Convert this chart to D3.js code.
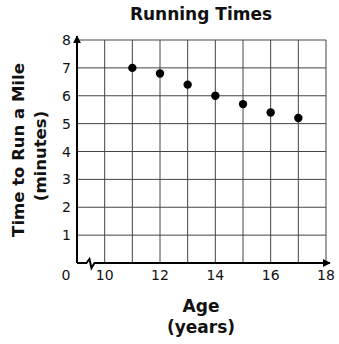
<!DOCTYPE html>
<html>
<head>
<meta charset="utf-8">
<script src="https://cdn.jsdelivr.net/npm/d3@7"></script>
<style>
  body { margin: 0; background: #fff; }
  text { font-family: "DejaVu Sans", Verdana, sans-serif; fill: #111; }
</style>
</head>
<body>
<div id="chart"></div>
<script>
// data
const ages = [11, 12, 13, 14, 15, 16, 17];
const times = [7.0, 6.8, 6.4, 6.0, 5.7, 5.4, 5.2];
const xTicks = [10, 12, 14, 16, 18];
const yTicks = [1, 2, 3, 4, 5, 6, 7, 8];

const width = 339, height = 344;
const plot = { left: 77, right: 326, top: 40, bottom: 263 };

const svg = d3.select("#chart").append("svg")
  .attr("width", width).attr("height", height);

// x axis is broken: left edge stands for 0 but grid starts at 9
const x = d3.scaleLinear().domain([9, 18]).range([plot.left, plot.right]);
const y = d3.scaleLinear().domain([0, 8]).range([plot.bottom, plot.top]);

// grid
svg.append("g").selectAll("line")
  .data(d3.range(10, 19))
  .join("line")
  .attr("x1", d => x(d)).attr("x2", d => x(d))
  .attr("y1", plot.top).attr("y2", plot.bottom)
  .attr("stroke", "#444").attr("stroke-width", 1);

svg.append("g").selectAll("line")
  .data(d3.range(1, 9))
  .join("line")
  .attr("x1", plot.left).attr("x2", plot.right)
  .attr("y1", d => y(d)).attr("y2", d => y(d))
  .attr("stroke", "#444").attr("stroke-width", 1);

// axes with arrows
svg.append("defs").append("marker")
  .attr("id", "arr").attr("viewBox", "0 0 10 10")
  .attr("refX", 9).attr("refY", 5)
  .attr("markerWidth", 4).attr("markerHeight", 4)
  .attr("orient", "auto")
  .append("path").attr("d", "M0,0L10,5L0,10Z").attr("fill", "#000");

svg.append("line")
  .attr("x1", plot.left).attr("x2", plot.left)
  .attr("y1", plot.bottom).attr("y2", plot.top - 4)
  .attr("stroke", "#000").attr("stroke-width", 2)
  .attr("marker-end", "url(#arr)");

// x axis line with the break zigzag
const bx = x(9.45), b = plot.bottom;
svg.append("path")
  .attr("d", `M${plot.left},${b}L${bx - 3},${b}L${bx},${b - 4}L${bx + 2},${b + 5}L${bx + 5},${b}L${plot.right + 4},${b}`)
  .attr("fill", "none").attr("stroke", "#000").attr("stroke-width", 2)
  .attr("marker-end", "url(#arr)");

// tick labels
svg.append("g").selectAll("text")
  .data(yTicks)
  .join("text")
  .attr("x", plot.left - 6).attr("y", d => y(d) + 5)
  .attr("text-anchor", "end")
  .attr("font-size", 14)
  .text(d => d);

svg.append("g").selectAll("text")
  .data(xTicks)
  .join("text")
  .attr("x", d => x(d)).attr("y", plot.bottom + 17)
  .attr("text-anchor", "middle")
  .attr("font-size", 14)
  .text(d => d);

svg.append("text")
  .attr("x", plot.left - 11).attr("y", plot.bottom + 17)
  .attr("text-anchor", "middle").attr("font-size", 14)
  .text("0");

// points
svg.append("g").selectAll("circle")
  .data(ages)
  .join("circle")
  .attr("cx", d => x(d))
  .attr("cy", (d, i) => y(times[i]))
  .attr("r", 4.2)
  .attr("fill", "#000");

// titles
svg.append("text")
  .attr("x", 201).attr("y", 20)
  .attr("text-anchor", "middle")
  .attr("font-size", 17).attr("font-weight", "bold")
  .text("Running Times");

svg.append("text")
  .attr("x", 201).attr("y", 312)
  .attr("text-anchor", "middle")
  .attr("font-size", 17).attr("font-weight", "bold")
  .text("Age");
svg.append("text")
  .attr("x", 201).attr("y", 333)
  .attr("text-anchor", "middle")
  .attr("font-size", 17).attr("font-weight", "bold")
  .text("(years)");

svg.append("text")
  .attr("transform", "translate(24,150) rotate(-90)")
  .attr("text-anchor", "middle")
  .attr("font-size", 16.5).attr("font-weight", "bold")
  .text("Time to Run a Mile");
svg.append("text")
  .attr("transform", "translate(46,156) rotate(-90)")
  .attr("text-anchor", "middle")
  .attr("font-size", 16.5).attr("font-weight", "bold")
  .text("(minutes)");
</script>
</body>
</html>
